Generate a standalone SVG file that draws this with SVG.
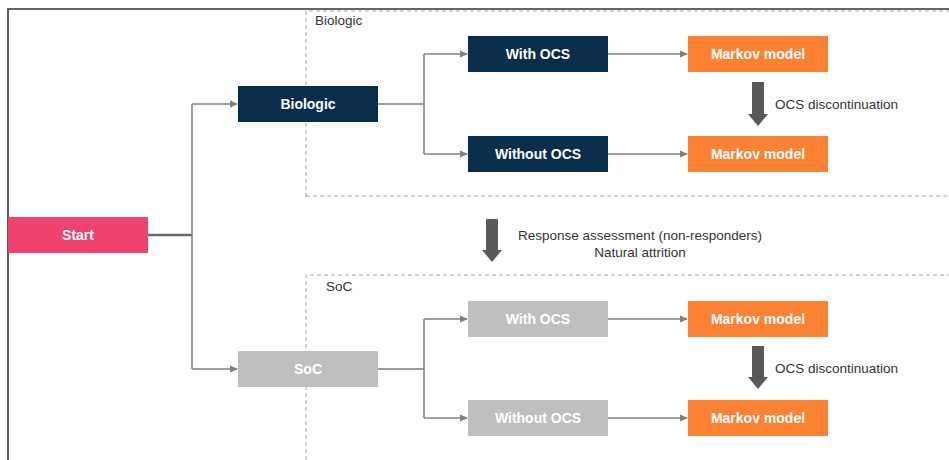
<svg xmlns="http://www.w3.org/2000/svg" width="949" height="460" viewBox="0 0 949 460">
<style>
.nt{font-family:"Liberation Sans",Arial,sans-serif;font-size:14px;font-weight:bold;fill:#fff;text-anchor:middle}
.lb{font-family:"Liberation Sans",Arial,sans-serif;font-size:13.5px;fill:#333}
.cn{stroke:#7f7f7f;stroke-width:1.5;fill:none}
.dash{stroke:#a6a6a6;stroke-width:1;stroke-dasharray:4 3;fill:none}
.navy{fill:#0b2d4c}
.gray{fill:#bfbfbf}
.org{fill:#fb8133}
.big{fill:#595959}
</style>
<defs>
<marker id="ah" markerWidth="8" markerHeight="8" refX="7" refY="4" orient="auto" markerUnits="userSpaceOnUse">
<path d="M0,0.5 L8,4 L0,7.5 Z" fill="#7f7f7f"/>
</marker>
</defs>
<rect width="949" height="460" fill="#fff"/>
<g id="frame">
<path d="M8,460 V9 H949" fill="none" stroke="#333" stroke-width="1.6"/>
</g>
<g id="group-biologic">
<path class="dash" d="M306,197 V11 H949 M306,196 H949"/>
<text class="lb" x="315" y="25">Biologic</text>
</g>
<g id="group-soc">
<path class="dash" d="M306,460 V275 H949"/>
<text class="lb" x="326" y="291">SoC</text>
</g>
<g id="connectors">
<path d="M148,235 H192" stroke="#666" stroke-width="2.5" fill="none"/>
<path class="cn" d="M192,104 V369"/>
<path class="cn" d="M192,104 H237" marker-end="url(#ah)"/>
<path class="cn" d="M192,369 H237" marker-end="url(#ah)"/>
<path class="cn" d="M378,104 H424 M424,54 V154"/>
<path class="cn" d="M424,54 H467" marker-end="url(#ah)"/>
<path class="cn" d="M424,154 H467" marker-end="url(#ah)"/>
<path class="cn" d="M608,54 H687" marker-end="url(#ah)"/>
<path class="cn" d="M608,154 H687" marker-end="url(#ah)"/>
<path class="cn" d="M378,369 H424 M424,319 V418"/>
<path class="cn" d="M424,319 H467" marker-end="url(#ah)"/>
<path class="cn" d="M424,418 H467" marker-end="url(#ah)"/>
<path class="cn" d="M608,319 H687" marker-end="url(#ah)"/>
<path class="cn" d="M608,418 H687" marker-end="url(#ah)"/>
<path class="big" d="M752,82 H764 V114 H768 L758,126 L748,114 H752 Z"/>
<text class="lb" x="775" y="109">OCS discontinuation</text>
<path class="big" d="M752,346 H764 V377 H768 L758,389 L748,377 H752 Z"/>
<text class="lb" x="775" y="373">OCS discontinuation</text>
<path class="big" d="M486,219 H498 V250 H502 L492,262 L482,250 H486 Z"/>
<text class="lb" x="640" y="240" text-anchor="middle">Response assessment (non-responders)</text>
<text class="lb" x="640" y="257" text-anchor="middle">Natural attrition</text>
</g>
<g id="start"><rect x="8" y="217" width="140" height="36" fill="#ef426f"/><text class="nt" x="78" y="240">Start</text></g>
<g id="biologic"><rect class="navy" x="238" y="86" width="140" height="36"/><text class="nt" x="308" y="109">Biologic</text></g>
<g id="bio-with"><rect class="navy" x="468" y="36" width="140" height="36"/><text class="nt" x="538" y="59">With OCS</text></g>
<g id="bio-without"><rect class="navy" x="468" y="136" width="140" height="36"/><text class="nt" x="538" y="159">Without OCS</text></g>
<g id="markov1"><rect class="org" x="688" y="36" width="140" height="36"/><text class="nt" x="758" y="59">Markov model</text></g>
<g id="markov2"><rect class="org" x="688" y="136" width="140" height="36"/><text class="nt" x="758" y="159">Markov model</text></g>
<g id="soc"><rect class="gray" x="238" y="351" width="140" height="36"/><text class="nt" x="308" y="374">SoC</text></g>
<g id="soc-with"><rect class="gray" x="468" y="301" width="140" height="36"/><text class="nt" x="538" y="324">With OCS</text></g>
<g id="soc-without"><rect class="gray" x="468" y="400" width="140" height="36"/><text class="nt" x="538" y="423">Without OCS</text></g>
<g id="markov3"><rect class="org" x="688" y="301" width="140" height="36"/><text class="nt" x="758" y="324">Markov model</text></g>
<g id="markov4"><rect class="org" x="688" y="400" width="140" height="36"/><text class="nt" x="758" y="423">Markov model</text></g>
</svg>
